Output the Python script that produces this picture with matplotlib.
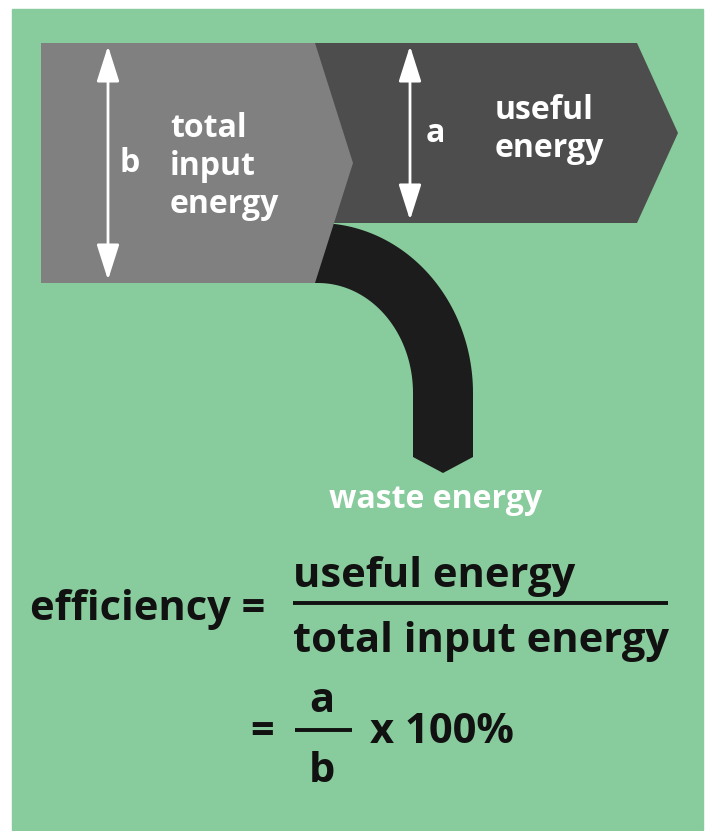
import numpy as np
import matplotlib
matplotlib.use("Agg")
import matplotlib.pyplot as plt
from matplotlib.patches import Polygon, Rectangle, FancyArrowPatch

# energy flows (arbitrary units): input splits into useful + waste
flow_names = ["total input energy", "useful energy", "waste energy"]
flow_values = [100, 75, 25]
flow_colors = ["#808080", "#4d4d4d", "#1c1c1c"]

formula_top = ["useful energy", "total input energy"]
formula_bottom = ["a", "b"]

bg_green = "#88cb9c"
scale = 2.4  # px per energy unit

fig = plt.figure(figsize=(7.12, 8.31), dpi=100)
ax = fig.add_axes([0, 0, 1, 1])
ax.set_xlim(0, 712)
ax.set_ylim(831, 0)
ax.axis("off")

ax.add_patch(Rectangle((12, 9), 691, 821, color=bg_green, zorder=0))

font = "Open Sans"
top = 43
h_in = flow_values[0] * scale
h_use = flow_values[1] * scale
h_waste = flow_values[2] * scale

# waste band: quarter turn (slightly elliptical) then straight down
cx = 318
rx_out, ry_out = 155, 170
cy = top + h_use + ry_out
rx_in, ry_in = rx_out - h_waste, ry_out - h_waste
th = np.linspace(0, np.pi / 2, 60)
outer = [(300, top + h_use)] + [(cx + rx_out * np.sin(t), cy - ry_out * np.cos(t)) for t in th]
inner = [(cx + rx_in * np.sin(t), cy - ry_in * np.cos(t)) for t in th][::-1] + [(300, top + h_in)]
bottom_y = 457
xo, xi = cx + rx_out, cx + rx_in
pts = outer + [(xo, bottom_y), ((xo + xi) / 2, bottom_y + 16), (xi, bottom_y)] + inner
ax.add_patch(Polygon(pts, closed=True, color=flow_colors[2], lw=0, zorder=1))

# useful energy chevron
ux0, ux1 = 300, 637
ax.add_patch(Polygon([(ux0, top), (ux1, top), (ux1 + 41, top + h_use / 2),
                      (ux1, top + h_use), (ux0, top + h_use)],
                     closed=True, color=flow_colors[1], lw=0, zorder=2))

# total input chevron
gx0, gx1 = 41, 315
ax.add_patch(Polygon([(gx0, top), (gx1, top), (gx1 + 38, top + h_in / 2),
                      (gx1, top + h_in), (gx0, top + h_in)],
                     closed=True, color=flow_colors[0], lw=0, zorder=3))

# double arrows
for x, y1 in [(108, top + h_in), (410, top + h_use)]:
    arr = FancyArrowPatch((x, top + 3), (x, y1 - 3),
                          arrowstyle="<|-|>,head_length=1.1,head_width=0.35",
                          mutation_scale=20, color="white", lw=2,
                          shrinkA=0, shrinkB=0, zorder=5)
    ax.add_patch(arr)

tkw = dict(color="white", fontsize=23, family=font, fontweight="bold", zorder=6)
ax.text(130, top + h_in / 2, "b", ha="center", va="center", **tkw)
for i, line in enumerate(["total", "input", "energy"]):
    ax.text(170, 137 + 38 * i, line, ha="left", va="baseline", **tkw)
ax.text(435, top + h_use / 2, "a", ha="center", va="center", **tkw)
for i, line in enumerate(["useful", "energy"]):
    ax.text(495, 119 + 38 * i, line, ha="left", va="baseline", **tkw)
ax.text(436, 508, flow_names[2], ha="center", va="baseline", **tkw)

fkw = dict(color="#111111", fontsize=30, family=font, fontweight="bold")
ax.text(265, 620, "efficiency =", ha="right", va="baseline", **fkw)
ax.text(293, 587, formula_top[0], ha="left", va="baseline", **fkw)
ax.plot([293, 668], [603, 603], color="#111111", lw=2.8, solid_capstyle="butt")
ax.text(293, 652, formula_top[1], ha="left", va="baseline", **fkw)

ax.text(274, 743, "=", ha="right", va="baseline", **fkw)
ax.text(322, 712, formula_bottom[0], ha="center", va="baseline", **fkw)
ax.plot([295, 352], [730, 730], color="#111111", lw=2.8, solid_capstyle="butt")
ax.text(322, 782, formula_bottom[1], ha="center", va="baseline", **fkw)
ax.text(370, 743, "x 100%", ha="left", va="baseline", **fkw)

fig.savefig("out.png", dpi=100, facecolor="white")
